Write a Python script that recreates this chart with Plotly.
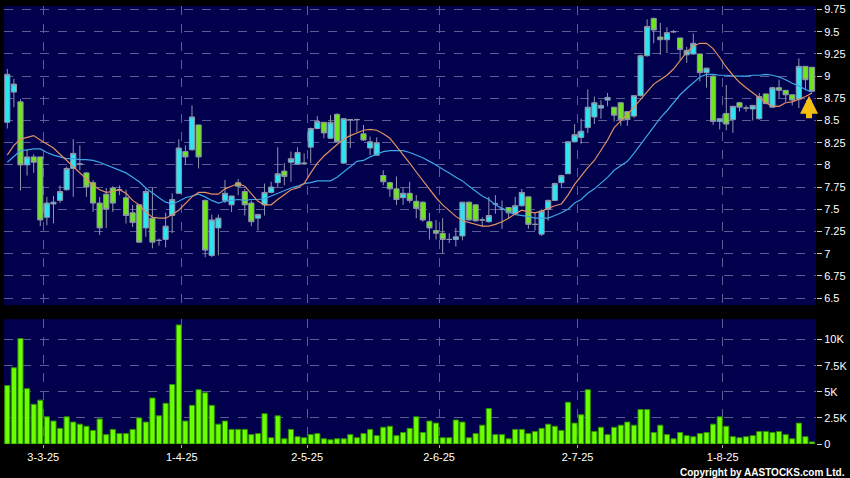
import pandas as pd
import plotly.graph_objects as go

# ---------------- data ----------------
hk_holidays = ["2025-04-04", "2025-04-18", "2025-04-21", "2025-05-01", "2025-05-05", "2025-07-01"]
dates = [d.strftime("%Y-%m-%d") for d in pd.bdate_range("2025-02-24", "2025-08-21")
         if d.strftime("%Y-%m-%d") not in hk_holidays]

opens = [8.48, 8.82, 8.71, 8.00, 8.09, 8.09, 7.41, 7.56, 7.60, 7.72,
         7.96, 8.01, 7.91, 7.80, 7.57, 7.67, 7.74, 7.72, 7.63, 7.46,
         7.55, 7.29, 7.40, 7.15, 7.16, 7.43, 7.68, 8.15, 8.17, 8.45,
         7.60, 6.98, 7.29, 7.60, 7.55, 7.80, 7.70, 7.57, 7.40, 7.55,
         7.69, 7.80, 7.93, 8.03, 8.01, 8.01, 8.20, 8.41, 8.48, 8.30,
         8.57, 8.02, 8.51, 8.51, 8.35, 8.19, 8.11, 7.88, 7.80, 7.73,
         7.63, 7.68, 7.59, 7.58, 7.36, 7.26, 7.23, 7.16, 7.16, 7.20,
         7.58, 7.55, 7.38, 7.36, 7.56, 7.50, 7.52, 7.45, 7.54, 7.64,
         7.33, 7.22, 7.50, 7.60, 7.80, 7.90, 8.26, 8.31, 8.42, 8.54,
         8.64, 8.73, 8.65, 8.70, 8.60, 8.55, 8.78, 9.23, 9.65, 9.44,
         9.41, 9.50, 9.43, 9.24, 9.25, 9.25, 9.04, 9.00, 8.49, 8.58,
         8.51, 8.70, 8.64, 8.63, 8.52, 8.80, 8.65, 8.87, 8.84, 8.79,
         8.74, 9.11, 9.10]
highs = [9.08, 8.97, 8.74, 8.17, 8.12, 8.09, 7.64, 7.65, 7.77, 7.98,
         8.29, 8.22, 7.92, 7.83, 7.64, 7.74, 7.76, 7.77, 7.72, 7.55,
         7.55, 7.75, 7.74, 7.17, 7.46, 7.68, 8.29, 8.22, 8.67, 8.45,
         7.61, 7.44, 7.44, 7.83, 7.65, 7.84, 7.73, 7.60, 7.45, 7.79,
         7.81, 8.20, 8.02, 8.15, 8.20, 8.13, 8.42, 8.55, 8.48, 8.56,
         8.58, 8.53, 8.51, 8.52, 8.45, 8.32, 8.31, 7.94, 7.81, 7.87,
         7.74, 7.81, 7.66, 7.59, 7.46, 7.38, 7.40, 7.23, 7.29, 7.58,
         7.59, 7.56, 7.41, 7.64, 7.66, 7.60, 7.52, 7.64, 7.73, 7.64,
         7.46, 7.50, 7.61, 7.80, 7.89, 8.27, 8.46, 8.52, 8.85, 8.77,
         8.73, 8.81, 8.65, 8.71, 8.60, 8.78, 9.24, 9.64, 9.66, 9.60,
         9.55, 9.52, 9.43, 9.33, 9.48, 9.25, 9.09, 9.01, 8.53, 8.90,
         8.66, 8.71, 8.67, 8.67, 8.81, 8.80, 8.88, 8.96, 8.84, 8.79,
         9.20, 9.11, 9.10]
lows = [8.41, 8.65, 7.71, 7.88, 7.91, 7.31, 7.32, 7.34, 7.57, 7.71,
        7.64, 7.94, 7.64, 7.47, 7.21, 7.29, 7.47, 7.66, 7.34, 7.30,
        7.12, 7.19, 7.06, 7.09, 7.07, 7.23, 7.67, 8.00, 8.16, 7.96,
        6.96, 6.96, 6.98, 7.57, 7.47, 7.66, 7.43, 7.31, 7.26, 7.43,
        7.68, 7.75, 7.77, 7.81, 8.00, 8.00, 8.02, 8.40, 8.30, 8.29,
        8.25, 8.01, 8.19, 8.37, 8.27, 8.11, 8.10, 7.77, 7.64, 7.55,
        7.55, 7.57, 7.40, 7.36, 7.16, 7.16, 7.00, 7.12, 7.08, 7.15,
        7.37, 7.36, 7.30, 7.35, 7.45, 7.28, 7.40, 7.44, 7.53, 7.28,
        7.26, 7.20, 7.37, 7.60, 7.74, 7.90, 8.25, 8.24, 8.36, 8.46,
        8.52, 8.66, 8.49, 8.44, 8.44, 8.53, 8.77, 9.22, 9.37, 9.24,
        9.26, 9.49, 9.18, 9.15, 9.24, 8.94, 8.87, 8.45, 8.40, 8.39,
        8.36, 8.60, 8.60, 8.50, 8.51, 8.69, 8.65, 8.75, 8.71, 8.67,
        8.64, 8.84, 8.82]
closes = [9.02, 8.91, 8.00, 8.09, 8.03, 7.38, 7.57, 7.58, 7.70, 7.96,
          8.13, 8.01, 7.75, 7.57, 7.29, 7.50, 7.57, 7.72, 7.43, 7.35,
          7.13, 7.70, 7.13, 7.15, 7.31, 7.61, 8.19, 8.09, 8.54, 8.09,
          7.04, 7.38, 7.40, 7.68, 7.65, 7.76, 7.55, 7.36, 7.44, 7.69,
          7.75, 7.90, 7.87, 8.07, 8.14, 8.02, 8.41, 8.49, 8.36, 8.48,
          8.26, 8.52, 8.51, 8.51, 8.28, 8.26, 8.25, 7.81, 7.73, 7.61,
          7.68, 7.60, 7.51, 7.38, 7.29, 7.23, 7.16, 7.16, 7.19, 7.58,
          7.38, 7.37, 7.38, 7.43, 7.56, 7.50, 7.46, 7.54, 7.69, 7.33,
          7.33, 7.48, 7.60, 7.79, 7.88, 8.26, 8.34, 8.38, 8.65, 8.70,
          8.67, 8.76, 8.56, 8.51, 8.51, 8.78, 9.23, 9.56, 9.52, 9.41,
          9.49, 9.50, 9.30, 9.29, 9.37, 9.04, 9.09, 8.49, 8.52, 8.46,
          8.66, 8.65, 8.64, 8.67, 8.77, 8.69, 8.87, 8.84, 8.79, 8.73,
          9.11, 8.96, 8.83]

ma_short = [8.11, 8.22, 8.29, 8.31, 8.33, 8.28, 8.23, 8.19, 8.12, 8.05,
            7.97, 7.91, 7.84, 7.77, 7.72, 7.69, 7.70, 7.72, 7.68, 7.60,
            7.55, 7.47, 7.41, 7.40, 7.40, 7.44, 7.49, 7.56, 7.64, 7.69,
            7.69, 7.67, 7.67, 7.73, 7.76, 7.79, 7.76, 7.68, 7.59, 7.55,
            7.55, 7.61, 7.66, 7.72, 7.74, 7.79, 7.91, 8.02, 8.10, 8.17,
            8.23, 8.29, 8.33, 8.36, 8.39, 8.40, 8.39, 8.35, 8.30, 8.21,
            8.12, 8.02, 7.92, 7.82, 7.72, 7.63, 7.55, 7.48, 7.42, 7.37,
            7.35, 7.33, 7.31, 7.31, 7.33, 7.36, 7.40, 7.45, 7.49, 7.47,
            7.46, 7.48, 7.51, 7.54, 7.56, 7.66, 7.78, 7.88, 7.97, 8.05,
            8.16, 8.28, 8.42, 8.49, 8.57, 8.65, 8.74, 8.82, 8.91, 8.96,
            9.01, 9.08, 9.18, 9.27, 9.34, 9.37, 9.37, 9.31, 9.21, 9.10,
            9.01, 8.93, 8.87, 8.81, 8.75, 8.70, 8.66, 8.66, 8.70, 8.71,
            8.74, 8.77, 8.81]
ma_long = [8.03, 8.10, 8.16, 8.17, 8.18, 8.18, 8.14, 8.11, 8.09, 8.07,
           8.07, 8.06, 8.06, 8.05, 8.03, 8.00, 7.97, 7.94, 7.91, 7.86,
           7.81, 7.74, 7.68, 7.63, 7.58, 7.56, 7.59, 7.63, 7.65, 7.67,
           7.64, 7.60, 7.57, 7.59, 7.60, 7.61, 7.60, 7.61, 7.61, 7.62,
           7.65, 7.68, 7.71, 7.74, 7.76, 7.79, 7.80, 7.82, 7.82, 7.82,
           7.86, 7.92, 7.99, 8.04, 8.05, 8.09, 8.12, 8.15, 8.16, 8.16,
           8.16, 8.14, 8.11, 8.08, 8.04, 8.00, 7.95, 7.91, 7.86, 7.82,
           7.76, 7.70, 7.65, 7.61, 7.55, 7.51, 7.47, 7.44, 7.43, 7.42,
           7.40, 7.40, 7.40, 7.43, 7.46, 7.50, 7.57, 7.61, 7.68, 7.73,
           7.79, 7.86, 7.94, 7.99, 8.04, 8.13, 8.23, 8.34, 8.44, 8.53,
           8.61, 8.70, 8.79, 8.86, 8.92, 8.99, 9.02, 9.02, 9.01, 9.01,
           9.00, 9.00, 9.00, 9.01, 9.01, 9.02, 9.01, 8.99, 8.96, 8.92,
           8.89, 8.85, 8.82]

volume_k = [5.6, 7.3, 10.1, 5.3, 3.8, 4.2, 2.6, 2.2, 1.5, 2.6,
            2.1, 1.9, 1.7, 1.3, 2.4, 0.9, 1.4, 1.0, 1.0, 1.4,
            2.5, 2.1, 4.4, 2.7, 3.9, 5.7, 11.4, 2.2, 3.7, 5.2,
            4.9, 3.7, 1.9, 2.2, 1.4, 1.4, 1.4, 0.9, 1.0, 2.9,
            0.6, 2.7, 0.5, 1.4, 0.7, 0.6, 0.9, 1.0, 0.5, 0.4,
            0.5, 0.5, 0.9, 0.6, 1.0, 1.4, 0.8, 1.6, 1.7, 0.8,
            1.1, 1.5, 2.6, 1.1, 2.2, 2.0, 0.6, 0.6, 2.3, 2.1,
            0.6, 1.0, 1.8, 3.4, 0.9, 0.9, 0.5, 1.4, 1.4, 1.0,
            1.2, 1.5, 1.9, 1.7, 1.3, 4.0, 2.0, 2.8, 5.2, 1.2,
            1.6, 0.9, 1.6, 1.8, 2.1, 1.8, 3.3, 3.3, 1.1, 1.8,
            0.9, 0.5, 1.1, 0.8, 0.7, 1.0, 1.1, 1.9, 2.6, 1.7,
            0.7, 0.6, 0.7, 0.8, 1.2, 1.2, 1.1, 1.2, 0.9, 0.5,
            2.0, 0.7, 0.2]

price_ticks = [6.5, 6.75, 7, 7.25, 7.5, 7.75, 8, 8.25, 8.5, 8.75, 9, 9.25, 9.5, 9.75]
price_tick_text = ["6.5", "6.75", "7", "7.25", "7.5", "7.75", "8", "8.25", "8.5", "8.75", "9", "9.25", "9.5", "9.75"]
vol_ticks = [0, 2.5, 5, 7.5, 10]
vol_tick_text = ["0", "2.5K", "5K", "7.5K", "10K"]
month_tick_dates = ["2025-03-03", "2025-04-01", "2025-05-02", "2025-06-02", "2025-07-02", "2025-08-01"]
month_tick_text = ["3-3-25", "1-4-25", "2-5-25", "2-6-25", "2-7-25", "1-8-25"]

# ---------------- styling ----------------
BG = "#000000"
PLOT_BG = "#00004c"
GRID = "#5c5c94"
CYAN = "#2de4f2"
GREEN = "#6fe61c"
WICK = "#8f97ac"
FONT = "Liberation Sans"

tickpos = [dates.index(d) + 0.45 for d in month_tick_dates]

fig = go.Figure()

fig.add_trace(go.Candlestick(
    x=dates, open=opens, high=highs, low=lows, close=closes,
    increasing=dict(fillcolor=CYAN, line=dict(color=WICK, width=1)),
    decreasing=dict(fillcolor=GREEN, line=dict(color=WICK, width=1)),
    whiskerwidth=0, xaxis="x", yaxis="y", showlegend=False, hoverinfo="skip",
))
fig.add_trace(go.Scatter(x=dates, y=ma_long, mode="lines", line=dict(color="#3ea6e6", width=1.2),
                         xaxis="x", yaxis="y", showlegend=False, hoverinfo="skip"))
fig.add_trace(go.Scatter(x=dates, y=ma_short, mode="lines", line=dict(color="#e28f62", width=1.2),
                         xaxis="x", yaxis="y", showlegend=False, hoverinfo="skip"))

fig.add_trace(go.Bar(x=dates, y=volume_k, marker=dict(color="#6cff00", line=dict(color="#2f8f00", width=1)),
                     xaxis="x2", yaxis="y2", showlegend=False, hoverinfo="skip"))

xr = [-0.5, len(dates) - 0.4]
common_x = dict(type="category", range=xr, showgrid=True, gridcolor=GRID, griddash="dash", gridwidth=1,
                tickmode="array", tickvals=tickpos, zeroline=False, showline=False,
                rangeslider=dict(visible=False))

fig.update_layout(
    width=850, height=478,
    paper_bgcolor=BG, plot_bgcolor=PLOT_BG,
    margin=dict(l=4, r=34, t=6, b=34),
    bargap=0.22, boxgap=0.22, boxgroupgap=0,
    xaxis=dict(common_x, domain=[0, 1], anchor="y", ticktext=[""] * len(tickpos), ticks="", showticklabels=False),
    xaxis2=dict(common_x, domain=[0, 1], anchor="y2", ticktext=month_tick_text, ticks="outside", ticklen=3,
                tickcolor="#aaaaaa", tickfont=dict(color="white", size=11, family=FONT)),
    yaxis=dict(domain=[0.317, 1], range=[6.42, 9.79], side="right", tickmode="array", tickvals=price_ticks,
               ticktext=price_tick_text, showgrid=True, gridcolor=GRID, griddash="dash", zeroline=False,
               ticks="outside", ticklen=5, tickcolor="#cccccc",
               tickfont=dict(color="white", size=11, family=FONT)),
    yaxis2=dict(domain=[0, 0.285], range=[0, 11.95], side="right", tickmode="array", tickvals=vol_ticks,
                ticktext=vol_tick_text, showgrid=True, gridcolor=GRID, griddash="dash", zeroline=False,
                ticks="outside", ticklen=5, tickcolor="#cccccc",
                tickfont=dict(color="white", size=11, family=FONT)),
)

# signal arrow near latest bar
fig.add_annotation(x=dates[-1], y=8.78, xref="x", yref="y", xshift=-3, text="", showarrow=True,
                   ax=0, ay=24, arrowhead=2, arrowsize=0.6, arrowwidth=6, arrowcolor="#f4bd12")

fig.add_annotation(x=1, y=0, xref="paper", yref="paper", xanchor="right", yanchor="middle", xshift=31, yshift=-28,
                   text="<b>Copyright by AASTOCKS.com Ltd.</b>", showarrow=False,
                   font=dict(color="white", size=10, family=FONT))

fig.write_html("out.html", config={"displayModeBar": False},
               post_script="document.body.style.margin='0';document.body.style.overflow='hidden';")
